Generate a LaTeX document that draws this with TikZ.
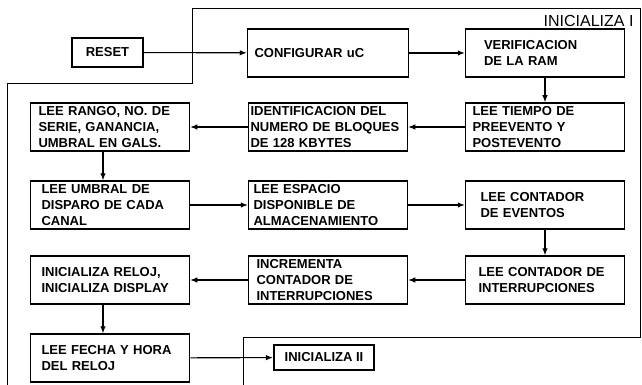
\documentclass[tikz,border=0pt]{standalone}
\usepackage{fontspec}
\setmainfont{Liberation Sans}
\usetikzlibrary{arrows.meta}
\tikzset{
  paso/.style={draw,line width=1.5pt,minimum width=159pt,minimum height=48pt,
    text width=141pt,inner xsep=9pt,align=left,
    font=\fontsize{13}{16}\selectfont\bfseries},
  extremo/.style={draw,line width=2.2pt,inner sep=0pt,align=center,
    font=\fontsize{13}{15}\selectfont\bfseries},
  flujo/.style={line width=1.1pt,-{Latex[length=7pt,width=5.5pt]}},
  grupo/.style={line width=0.7pt}
}
\begin{document}
\begin{tikzpicture}[x=1pt,y=-1pt]
  \useasboundingbox (0,0) rectangle (642,385);
  % limites de los bloques
  \draw[grupo] (7,385)--(7,83)--(192,83)--(192,8)--(640,8)--(640,337)--(243,337)--(243,385);
  \node[anchor=east,font=\fontsize{16}{18}\selectfont] (ini1) at (637,21) {INICIALIZA I};
  % fila 1
  \node[extremo,minimum width=71pt,minimum height=29pt] (reset) at (107.5,52.5) {RESET};
  \node[paso,text width=147pt,inner xsep=7pt] (config) at (328,53) {CONFIGURAR uC};
  \node[paso,text width=122pt,inner xsep=18pt] (ram) at (545,53) {VERIFICACION\\DE LA RAM};
  % fila 2
  \node[paso,text width=143pt,inner xsep=8pt] (rango) at (110,127) {LEE RANGO, NO. DE\\SERIE, GANANCIA,\\UMBRAL EN GALS.};
  \node[paso,text width=155pt,inner xsep=2pt] (bloques) at (328,127) {IDENTIFICACION DEL\\NUMERO DE BLOQUES\\DE 128 KBYTES};
  \node[paso,text width=145pt,inner xsep=7pt] (tiempo) at (545,127) {LEE TIEMPO DE\\PREEVENTO Y\\POSTEVENTO};
  % fila 3
  \node[paso,text width=137pt,inner xsep=11pt] (umbral) at (110,205) {LEE UMBRAL DE\\DISPARO DE CADA\\CANAL};
  \node[paso,text width=149pt,inner xsep=5pt] (espacio) at (328,205) {LEE ESPACIO\\DISPONIBLE DE\\ALMACENAMIENTO};
  \node[paso,text width=129pt,inner xsep=15pt] (eventos) at (545,205) {LEE CONTADOR\\DE EVENTOS};
  % fila 4
  \node[paso,text width=137pt,inner xsep=11pt] (reloj) at (110,280) {INICIALIZA RELOJ,\\INICIALIZA DISPLAY};
  \node[paso,text width=143pt,inner xsep=8pt] (incrementa) at (328,280) {INCREMENTA\\CONTADOR DE\\INTERRUPCIONES};
  \node[paso,text width=133pt,inner xsep=13pt] (interrup) at (545,280) {LEE CONTADOR DE\\INTERRUPCIONES};
  % fila 5
  \node[paso,text width=137pt,inner xsep=11pt] (fecha) at (110,358) {LEE FECHA Y HORA\\DEL RELOJ};
  \node[extremo,minimum width=100pt,minimum height=25pt] (ini2) at (324,357.5) {INICIALIZA II};
  % flechas
  \draw[flujo] (reset)--(config);
  \draw[flujo] (config)--(ram);
  \draw[flujo] (ram)--(tiempo);
  \draw[flujo] (tiempo)--(bloques);
  \draw[flujo] (bloques)--(rango);
  \draw[flujo] ([xshift=-7pt]rango.south)--([xshift=-7pt]umbral.north);
  \draw[flujo] (umbral)--(espacio);
  \draw[flujo] (espacio)--(eventos);
  \draw[flujo] (eventos)--(interrup);
  \draw[flujo] (interrup)--(incrementa);
  \draw[flujo] (incrementa)--(reloj);
  \draw[flujo] ([xshift=-7pt]reloj.south)--([xshift=-7pt]fecha.north);
  \draw[flujo] (fecha)--(ini2);
\end{tikzpicture}
\end{document}
